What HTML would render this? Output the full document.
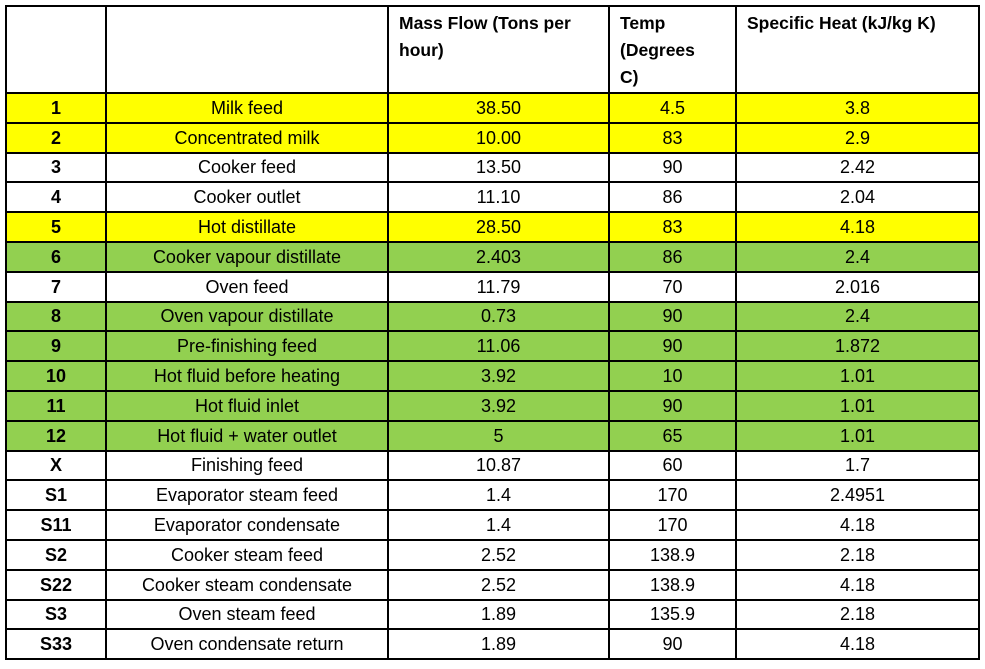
<!DOCTYPE html>
<html><head><style>
html,body{margin:0;padding:0;background:#fff;width:985px;height:669px;overflow:hidden}
table{position:absolute;left:5px;top:5px;border-collapse:collapse;font-family:"Liberation Sans",sans-serif;font-size:18px;color:#000;table-layout:fixed}
td{border:2px solid #000;text-align:center;padding:0;height:27.8px;line-height:26px;white-space:nowrap;overflow:hidden}
tr.h td{height:82px;vertical-align:top;text-align:left;font-weight:bold;line-height:27px;white-space:normal;padding:3px 0 0 10px;font-size:17.5px}
td:first-child{font-weight:bold}
.y td{background:#ffff00}
.g td{background:#92d050}
</style></head><body>
<table>
<colgroup><col style="width:100px"><col style="width:282px"><col style="width:221px"><col style="width:127px"><col style="width:243px"></colgroup>
<tr class="h"><td></td><td></td><td>Mass Flow (Tons per hour)</td><td>Temp<br>(Degrees<br>C)</td><td>Specific Heat (kJ/kg K)</td></tr>
<tr class="y"><td>1</td><td>Milk feed</td><td>38.50</td><td>4.5</td><td>3.8</td></tr>
<tr class="y"><td>2</td><td>Concentrated milk</td><td>10.00</td><td>83</td><td>2.9</td></tr>
<tr><td>3</td><td>Cooker feed</td><td>13.50</td><td>90</td><td>2.42</td></tr>
<tr><td>4</td><td>Cooker outlet</td><td>11.10</td><td>86</td><td>2.04</td></tr>
<tr class="y"><td>5</td><td>Hot distillate</td><td>28.50</td><td>83</td><td>4.18</td></tr>
<tr class="g"><td>6</td><td>Cooker vapour distillate</td><td>2.403</td><td>86</td><td>2.4</td></tr>
<tr><td>7</td><td>Oven feed</td><td>11.79</td><td>70</td><td>2.016</td></tr>
<tr class="g"><td>8</td><td>Oven vapour distillate</td><td>0.73</td><td>90</td><td>2.4</td></tr>
<tr class="g"><td>9</td><td>Pre-finishing feed</td><td>11.06</td><td>90</td><td>1.872</td></tr>
<tr class="g"><td>10</td><td>Hot fluid before heating</td><td>3.92</td><td>10</td><td>1.01</td></tr>
<tr class="g"><td>11</td><td>Hot fluid inlet</td><td>3.92</td><td>90</td><td>1.01</td></tr>
<tr class="g"><td>12</td><td>Hot fluid + water outlet</td><td>5</td><td>65</td><td>1.01</td></tr>
<tr><td>X</td><td>Finishing feed</td><td>10.87</td><td>60</td><td>1.7</td></tr>
<tr><td>S1</td><td>Evaporator steam feed</td><td>1.4</td><td>170</td><td>2.4951</td></tr>
<tr><td>S11</td><td>Evaporator condensate</td><td>1.4</td><td>170</td><td>4.18</td></tr>
<tr><td>S2</td><td>Cooker steam feed</td><td>2.52</td><td>138.9</td><td>2.18</td></tr>
<tr><td>S22</td><td>Cooker steam condensate</td><td>2.52</td><td>138.9</td><td>4.18</td></tr>
<tr><td>S3</td><td>Oven steam feed</td><td>1.89</td><td>135.9</td><td>2.18</td></tr>
<tr><td>S33</td><td>Oven condensate return</td><td>1.89</td><td>90</td><td>4.18</td></tr>
</table>
</body></html>
